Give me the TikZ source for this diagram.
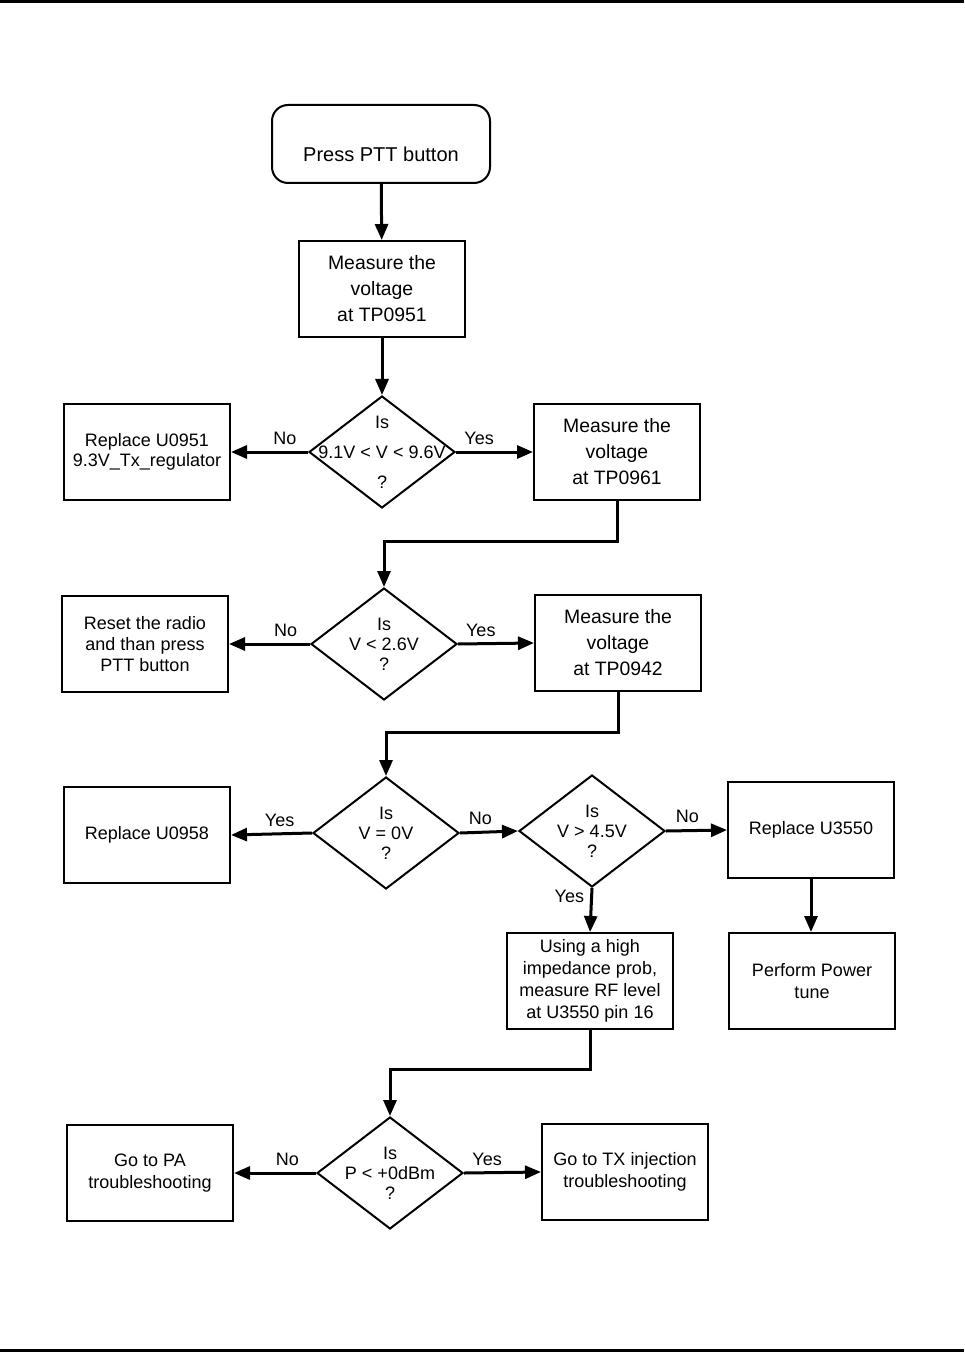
\documentclass[tikz,border=0pt]{standalone}
\usepackage{fontspec}
\setmainfont{Liberation Sans}
\usetikzlibrary{arrows.meta,shapes.geometric}

\begin{document}
\begin{tikzpicture}[
  x=0.5pt, y=-0.5pt,
  every node/.style={font=\fontsize{9}{11}\selectfont},
  block/.style={draw, rectangle, line width=1pt,
                minimum width=83pt, minimum height=48pt,
                align=center, inner sep=2pt},
  startbox/.style={block, rounded corners=8pt,
                   minimum width=109pt, minimum height=39pt,
                   text height=18pt, text depth=0pt},
  measure/.style={block, font=\fontsize{9.7}{13}\selectfont},
  decision/.style={draw, diamond, line width=1pt,
                   minimum width=73pt, minimum height=56pt, inner sep=0pt},
  dtext/.style={align=center, inner sep=0pt},
  arr/.style={-{Triangle[length=8pt,width=6.5pt]}, line width=1.5pt},
  lbl/.style={inner sep=3pt}
]
  \useasboundingbox (0,0) rectangle (964,1352);
  %% page rules
  \fill (0,0) rectangle (964,3);
  \fill (0,1349) rectangle (964,1352);

  %% Start
  \node[startbox, font=\fontsize{10}{12}\selectfont] (start) at (381,144) {Press PTT button};
  \node[measure] (tp51) at (382,289) {Measure the\\voltage\\at TP0951};

  %% First check
  \node[decision] (d1) at (382,452) {};
  \node[dtext, font=\fontsize{9}{15}\selectfont] (d1t) at (d1) {Is\\9.1V < V < 9.6V\\?};
  \node[block, font=\fontsize{9}{10}\selectfont] (u51) at (147,452)
    {Replace U0951\\9.3V\_Tx\_regulator};
  \node[measure] (tp61) at (617,452) {Measure the\\voltage\\at TP0961};

  %% Second check
  \node[decision] (d2) at (384,644) {};
  \node[dtext, font=\fontsize{9}{10}\selectfont] (d2t) at (d2) {Is\\V < 2.6V\\?};
  \node[block, font=\fontsize{9}{10.5}\selectfont] (reset) at (145,644)
    {Reset the radio\\and than press\\PTT button};
  \node[measure] (tp42) at (618,643) {Measure the\\voltage\\at TP0942};

  %% Third and fourth check
  \node[decision] (d3) at (386,833) {};
  \node[dtext, font=\fontsize{9}{10}\selectfont] (d3t) at (d3) {Is\\V = 0V\\?};
  \node[block] (u58) at (147,835) {Replace U0958};
  \node[decision] (d4) at (592,831) {};
  \node[dtext, font=\fontsize{9}{10}\selectfont] (d4t) at (d4) {Is\\V > 4.5V\\?};
  \node[block] (u3550) at (811,830) {Replace U3550};
  \node[block] (tune) at (812,981) {Perform Power\\tune};
  \node[block, font=\fontsize{9}{11}\selectfont] (rf) at (590,981)
    {Using a high\\impedance prob,\\measure RF level\\at U3550 pin 16};

  %% Last check
  \node[decision] (d5) at (390,1173) {};
  \node[dtext, font=\fontsize{9}{10}\selectfont] (d5t) at (d5) {Is\\P < +0dBm\\?};
  \node[block] (pa) at (150,1173) {Go to PA\\troubleshooting};
  \node[block] (tx) at (625,1172) {Go to TX injection\\troubleshooting};

  %% Arrows
  \draw[arr] (start) -- (tp51);
  \draw[arr] (tp51) -- (d1.north);
  \draw[arr] (d1.west) -- node[lbl, above, pos=0.3] (n1) {No} (u51.east);
  \draw[arr] (d1.east) -- node[lbl, above, pos=0.3] (y1) {Yes} (tp61.west);
  \draw[arr] (tp61.south) -- ++(0,40) -| (d2.north);
  \draw[arr] (d2.west) -- node[lbl, above, pos=0.3] (n2) {No} (reset.east);
  \draw[arr] (d2.east) -- node[lbl, above, pos=0.3] (y2) {Yes} (tp42.west);
  \draw[arr] (tp42.south) -- ++(0,40) -| (d3.north);
  \draw[arr] (d3.west) -- node[lbl, above, pos=0.4] (y3) {Yes} (u58.east);
  \draw[arr] (d3.east) -- node[lbl, above, pos=0.35] (n3) {No} (d4.west);
  \draw[arr] (d4.east) -- node[lbl, above, pos=0.35] (n4) {No} (u3550.west);
  \draw[arr] (d4.south) -- node[lbl, left, pos=0.2] (y4) {Yes} (rf.north);
  \draw[arr] (u3550.south) -- (u3550.south |- tune.north);
  \draw[arr] (rf.south) -- ++(0,39) -| (d5.north);
  \draw[arr] (d5.west) -- node[lbl, above, pos=0.35] (n5) {No} (pa.east);
  \draw[arr] (d5.east) -- node[lbl, above, pos=0.3] (y5) {Yes} (tx.west);
\end{tikzpicture}
\end{document}
